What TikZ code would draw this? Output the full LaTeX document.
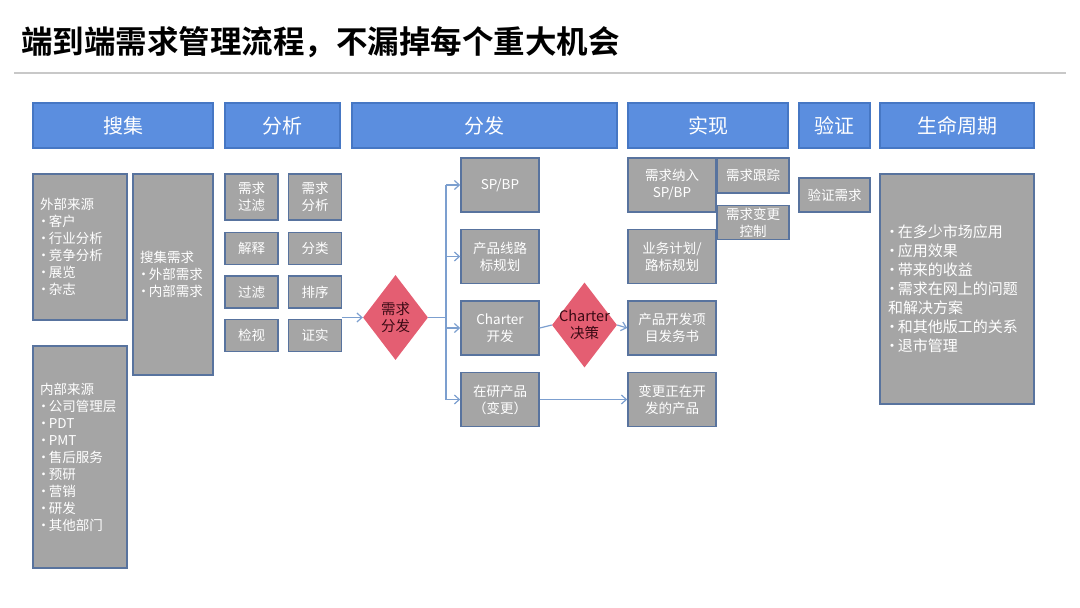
\documentclass[tikz,border=0pt]{standalone}
\usepackage{fontspec}
\setmainfont{Noto Sans CJK SC}[BoldFont={Noto Sans CJK SC Bold}]
\usepackage{tikz}
\usetikzlibrary{shapes.geometric,arrows.meta,positioning}
\definecolor{hdrblue}{HTML}{5B8EDF}
\definecolor{hdredge}{HTML}{4677C4}
\definecolor{boxgray}{HTML}{A5A5A5}
\definecolor{boxedge}{HTML}{58739E}
\definecolor{dmdred}{HTML}{E45E72}
\definecolor{dmdtext}{HTML}{3A0A14}
\definecolor{lnkblue}{HTML}{7C9FCF}
\definecolor{rulegray}{HTML}{C8C8C8}
\newcommand{\bdot}{\makebox[0.55em]{·}\hspace{1.5pt}}

\begin{document}
\begin{tikzpicture}[x=1pt,y=-1pt,
  hdr/.style={draw=hdredge,line width=1.5pt,fill=hdrblue,text=white,minimum height=45pt,inner sep=0pt,font=\fontsize{20}{24}\selectfont},
  gbox/.style={draw=boxedge,line width=1.5pt,fill=boxgray,text=white,inner sep=0pt,align=center,font=\fontsize{13.5}{17}\selectfont},
  lbox/.style={gbox,align=left,inner xsep=7pt},
  dmd/.style={diamond,fill=dmdred,inner sep=0pt,minimum width=65pt,minimum height=85pt,
    label={[text=dmdtext,align=center,font=\fontsize{14.5}{17}\selectfont]center:#1}},
  lnk/.style={draw=lnkblue,line width=1.2pt,-{Straight Barb[length=5pt,width=9pt]}},
  lnkline/.style={draw=lnkblue,line width=1.2pt}]
  \useasboundingbox (0,0) rectangle (1080,608);

  % title and rule
  \node[anchor=west,inner sep=0pt,font=\fontsize{31.5}{36}\selectfont\bfseries] (ttl) at (21,42) {端到端需求管理流程，不漏掉每个重大机会};
  \draw[rulegray,line width=2pt] (14,73) -- (1066,73);

  % column headers
  \node[hdr,minimum width=180pt] (sj) at (123,125.5) {搜集};
  \node[hdr,minimum width=115pt] (fx) at (282.5,125.5) {分析};
  \node[hdr,minimum width=265pt] (ff) at (484.5,125.5) {分发};
  \node[hdr,minimum width=160pt] (sx) at (708,125.5) {实现};
  \node[hdr,minimum width=71pt] (yz) at (834.5,125.5) {验证};
  \node[hdr,minimum width=154pt] (sm) at (957,125.5) {生命周期};

  % collect
  \node[lbox,text width=80pt,minimum height=146pt] (wb) at (80,247) {外部来源\\\bdot 客户\\\bdot 行业分析\\\bdot 竞争分析\\\bdot 展览\\\bdot 杂志};
  \node[lbox,text width=66pt,minimum height=201pt] (sjxq) at (173,274.5) {搜集需求\\\bdot 外部需求\\\bdot 内部需求};
  \node[lbox,text width=80pt,minimum height=222pt] (nb) at (80,457) {内部来源\\\bdot 公司管理层\\\bdot PDT\\\bdot PMT\\\bdot 售后服务\\\bdot 预研\\\bdot 营销\\\bdot 研发\\\bdot 其他部门};

  % analyse
  \node[gbox,minimum width=53pt,minimum height=46pt] (glv) at (251.5,197) {需求\\过滤};
  \node[gbox,minimum width=53pt,minimum height=32pt,below=11pt of glv] (js) {解释};
  \node[gbox,minimum width=53pt,minimum height=32pt,below=10pt of js] (gl) {过滤};
  \node[gbox,minimum width=53pt,minimum height=32pt,below=10pt of gl] (jsh) {检视};
  \node[gbox,minimum width=53pt,minimum height=46pt,right=9pt of glv] (xfx) {需求\\分析};
  \node[gbox,minimum width=53pt,minimum height=32pt,right=9pt of js] (fl) {分类};
  \node[gbox,minimum width=53pt,minimum height=32pt,right=9pt of gl] (px) {排序};
  \node[gbox,minimum width=53pt,minimum height=32pt,right=9pt of jsh] (zs) {证实};

  % distribute
  \node[dmd={需求\\分发}] (fd) at (395.5,317.5) {};
  \node[gbox,minimum width=78pt,minimum height=54pt] (sp) at (500,185) {SP/BP};
  \node[gbox,minimum width=78pt,minimum height=54pt,below=16pt of sp] (cx) {产品线路\\标规划};
  \node[gbox,minimum width=78pt,minimum height=54pt,below=16pt of cx] (ch) {Charter\\开发};
  \node[gbox,minimum width=78pt,minimum height=54pt,below=16pt of ch] (zy) {在研产品\\（变更）};
  \node[dmd={Charter\\决策}] (cj) at (584.5,325) {};

  % realise
  \node[gbox,minimum width=88pt,minimum height=54pt] (xn) at (672,185) {需求纳入\\SP/BP};
  \node[gbox,minimum width=88pt,minimum height=54pt,below=16pt of xn] (yw) {业务计划/\\路标规划};
  \node[gbox,minimum width=88pt,minimum height=54pt,below=16pt of yw] (kf) {产品开发项\\目发务书};
  \node[gbox,minimum width=88pt,minimum height=54pt,below=16pt of kf] (bg) {变更正在开\\发的产品};
  \node[gbox,minimum width=72pt,minimum height=35pt] (gz) at (753,175.5) {需求跟踪};
  \node[gbox,minimum width=72pt,minimum height=34pt,below=11pt of gz] (bk) {需求变更\\控制};

  % verify, lifecycle
  \node[gbox,minimum width=71pt,minimum height=34pt] (yzx) at (834.5,195) {验证需求};
  \node[lbox,text width=138pt,inner xsep=8pt,minimum height=230pt,font=\fontsize{15}{19}\selectfont] (smb) at (957,289) {\bdot 在多少市场应用\\\bdot 应用效果\\\bdot 带来的收益\\\bdot 需求在网上的问题\\和解决方案\\\bdot 和其他版工的关系\\\bdot 退市管理};

  % connectors
  \coordinate (br) at (446,317.5);
  \draw[lnk] (fd.west -| zs.east) -- (fd.west);
  \draw[lnkline] (fd.east) -- (br);
  \draw[lnkline] (br |- sp.west) -- (br |- zy.west);
  \foreach \t in {sp,cx,ch,zy}
    \draw[lnk] (br |- \t.west) -- (\t.west);
  \draw[lnkline] (ch.east) -- (cj.west);
  \draw[lnk] (cj.east) -- (kf.west);
  \draw[lnk] (zy.east) -- (bg.west);
\end{tikzpicture}
\end{document}
